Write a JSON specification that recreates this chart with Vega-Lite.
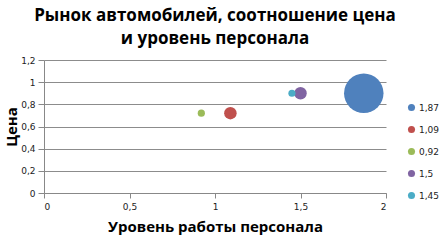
{
  "$schema": "https://vega.github.io/schema/vega-lite/v6.json",
  "width": 342,
  "height": 133,
  "autosize": "none",
  "padding": {"left": 44, "top": 60, "right": 55, "bottom": 50},
  "background": "white",
  "title": {
    "text": ["Рынок автомобилей, соотношение цена", "и уровень персонала"],
    "font": "Open Sans",
    "fontSize": 17,
    "fontWeight": "bold",
    "color": "#000000",
    "anchor": "middle",
    "lineHeight": 23,
    "offset": 8
  },
  "data": {
    "values": [
      {"name": "1,87", "x": 1.87, "y": 0.9, "size": 10},
      {"name": "1,09", "x": 1.09, "y": 0.72, "size": 1},
      {"name": "0,92", "x": 0.92, "y": 0.72, "size": 0.33},
      {"name": "1,5", "x": 1.5, "y": 0.9, "size": 1},
      {"name": "1,45", "x": 1.45, "y": 0.9, "size": 0.33}
    ]
  },
  "mark": {"type": "circle", "opacity": 1},
  "encoding": {
    "x": {
      "field": "x", "type": "quantitative",
      "scale": {"domain": [0, 2], "nice": false},
      "axis": {
        "values": [0, 0.5, 1, 1.5, 2],
        "grid": false,
        "labelExpr": "replace(format(datum.value, '~g'), '.', ',')",
        "title": "Уровень работы персонала",
        "titleFont": "Open Sans", "titleFontSize": 15, "titleFontWeight": "bold", "titleColor": "#000",
        "titlePadding": 8,
        "labelFont": "DejaVu Sans", "labelFontSize": 9, "labelColor": "#222",
        "labelPadding": 4,
        "domainColor": "#888", "tickColor": "#888", "tickSize": 5
      }
    },
    "y": {
      "field": "y", "type": "quantitative",
      "scale": {"domain": [0, 1.2], "nice": false},
      "axis": {
        "values": [0, 0.2, 0.4, 0.6, 0.8, 1, 1.2],
        "grid": true, "gridColor": "#8c8c8c",
        "labelExpr": "replace(format(datum.value, '~g'), '.', ',')",
        "title": "Цена",
        "titleFont": "Open Sans", "titleFontSize": 15, "titleFontWeight": "bold", "titleColor": "#000",
        "titlePadding": 1,
        "labelFont": "DejaVu Sans", "labelFontSize": 9, "labelColor": "#222",
        "labelPadding": 3,
        "domainColor": "#888", "tickColor": "#888", "tickSize": 6
      }
    },
    "size": {
      "field": "size", "type": "quantitative",
      "scale": {"type": "linear", "domain": [0, 10], "range": [0, 1560], "zero": true},
      "legend": null
    },
    "color": {
      "field": "name", "type": "nominal",
      "sort": ["1,87", "1,09", "0,92", "1,5", "1,45"],
      "scale": {
        "domain": ["1,87", "1,09", "0,92", "1,5", "1,45"],
        "range": ["#4F81BD", "#C0504D", "#9BBB59", "#8064A2", "#4BACC6"]
      },
      "legend": {
        "title": null,
        "orient": "none",
        "legendX": 363,
        "legendY": 43,
        "symbolType": "circle",
        "symbolSize": 50,
        "symbolStrokeWidth": 0,
        "symbolOpacity": 1,
        "labelFont": "DejaVu Sans",
        "labelFontSize": 9,
        "labelColor": "#222",
        "labelOffset": 3,
        "rowPadding": 12
      }
    }
  },
  "config": {"view": {"stroke": null}, "axis": {"domainWidth": 1}}
}
